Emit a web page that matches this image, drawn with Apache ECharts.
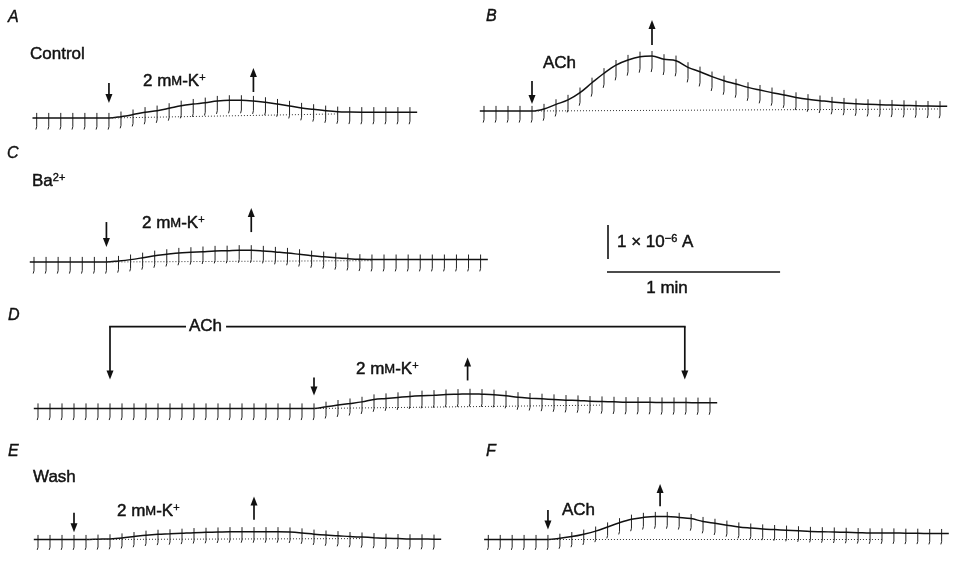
<!DOCTYPE html>
<html>
<head>
<meta charset="utf-8">
<script src="https://cdn.jsdelivr.net/npm/echarts@6/dist/echarts.min.js"></script>
<style>
  html, body { margin: 0; padding: 0; background: #fff; }
  #chart { width: 954px; height: 570px; }
</style>
</head>
<body>
<div id="chart"></div>
<script>
// membrane current at each voltage pulse, nA above the starting holding level
var traceA = [0, 0, 0, 0, 0, 0, 0, 40, 100, 170, 215, 285, 360, 410, 450, 500, 520, 520, 500, 460,
  410, 355, 295, 255, 215, 185, 175, 170, 170, 170, 170, 170];
var traceB = [0, 0, 0, 0, 0, 60, 195, 325, 540, 830, 1110, 1350, 1500, 1595, 1615, 1520, 1480, 1285,
  1155, 1010, 890, 795, 695, 615, 540, 470, 400, 345, 305, 265, 235, 215, 195, 185, 175, 165, 155, 145, 140];
var traceC = [0, 0, 0, 0, 0, 0, 0, 30, 70, 125, 185, 225, 265, 285, 305, 325, 330, 345, 345, 325,
  295, 265, 225, 185, 155, 125, 100, 80, 70, 70, 70, 70, 70, 70, 70, 70, 70, 70];
var traceD = [0, 0, 0, 0, 0, 0, 0, 0, 0, 0, 0, 0, 0, 0, 0, 0, 0, 0, 0, 0, 0, 0, 0, 0,
  50, 100, 145, 195, 265, 295, 325, 355, 375, 390, 410, 420, 430, 420, 405, 375, 330, 305, 285,
  265, 245, 235, 215, 205, 195, 185, 185, 185, 175, 175, 175, 170, 170];
var traceE = [0, 0, 0, 0, 0, 10, 20, 50, 95, 140, 170, 185, 205, 225, 235, 245, 255, 255, 255, 255,
  255, 245, 215, 175, 145, 125, 95, 80, 60, 40, 30, 20, 20, 10];
var traceF = [0, 0, 0, 0, 0, 0, 40, 95, 175, 275, 410, 550, 665, 725, 755, 755, 725, 685, 590, 530,
  470, 410, 375, 345, 325, 305, 285, 265, 255, 245, 235, 225, 215, 215, 215, 205, 205, 195, 195];

// dotted reference baselines: [pulse from, nA, pulse to, nA]
var baseA = [6, 0, 25, 120];
var baseB = [4, 0, 38, 60];
var baseC = [6, 0, 28, 40];
var baseD = [23, 0, 47, 100];
var baseE = [4, 0, 27, 30];
var baseF = [5, 0, 33, 0];

// application arrows: [panel, pulse, nA tail, nA head]
var arrows = [
  [0, 6, 1030, 440], [0, 18, 765, 1470],
  [1, 4, 880, 205], [1, 14, 1940, 2675],
  [2, 6, 1175, 440], [2, 18, 880, 1590],
  [3, 23, 910, 380], [3, 35.8, 825, 1500],
  [3, 6, 2410, 855], [3, 53.9, 2410, 855],
  [4, 3, 880, 235], [4, 18, 645, 1410],
  [5, 5, 970, 325], [5, 14.4, 1090, 1820]
];
var bracketD = [6, 53.9, 2410];

var PULSE_S = 4.16;      // seconds between pulses
var PX = 0.034;          // pixels per nA
var Y_MIN = -1000, Y_MAX = 3000;
var PULSE_UP = 150, PULSE_DOWN = 340, PULSE_GAIN = 0.08;

var panels = [
  { data: traceA, base: baseA, x0: 36.7, y0: 118, step: 12.04 },
  { data: traceB, base: baseB, x0: 484, y0: 111, step: 12.0 },
  { data: traceC, base: baseC, x0: 34, y0: 262, step: 12.07 },
  { data: traceD, base: baseD, x0: 38, y0: 408.5, step: 12.0 },
  { data: traceE, base: baseE, x0: 38, y0: 550, step: 12.0 },
  { data: traceF, base: baseF, x0: 488.3, y0: 550, step: 11.93 }
];

var FONT = '"Liberation Sans", Arial, sans-serif';
var INK = '#111';

function renderPulse(params, api) {
  var i = api.value(0), v = api.value(1);
  var down = PULSE_DOWN + PULSE_GAIN * v;
  var top = api.coord([i, v + PULSE_UP]);
  var low = api.coord([i, v - down * 0.75]);
  var end = api.coord([i, v - down]);
  return {
    type: 'polyline',
    shape: { points: [top, low, [end[0] - 0.8, end[1]]] },
    style: { stroke: '#222', lineWidth: 1, fill: null }
  };
}

var grids = [], xAxes = [], yAxes = [], series = [];
panels.forEach(function (p, k) {
  var n = p.data.length;
  grids.push({
    left: p.x0 - p.step, width: (n + 1) * p.step,
    top: p.y0 - Y_MAX * PX, height: (Y_MAX - Y_MIN) * PX
  });
  xAxes.push({ type: 'value', gridIndex: k, min: -1, max: n, show: false });
  yAxes.push({ type: 'value', gridIndex: k, min: Y_MIN, max: Y_MAX, show: false });

  var pts = p.data.map(function (v, i) { return [i, v]; });
  var line = [[-0.35, p.data[0]]].concat(pts, [[n - 1 + 0.6, p.data[n - 1]]]);
  series.push({
    type: 'line', xAxisIndex: k, yAxisIndex: k, data: line,
    smooth: 0.35, symbol: 'none', silent: true,
    lineStyle: { color: INK, width: 1.5 }
  });
  series.push({
    type: 'line', xAxisIndex: k, yAxisIndex: k,
    data: [[p.base[0], p.base[1]], [p.base[2], p.base[3]]],
    symbol: 'none', silent: true,
    lineStyle: { color: '#333', width: 1, type: [1, 2] }
  });
  series.push({
    type: 'custom', xAxisIndex: k, yAxisIndex: k, data: pts,
    renderItem: renderPulse, silent: true
  });
});

function label(x, y, text, extra) {
  var s = {
    x: x, y: y, text: text, fill: INK, font: '17px ' + FONT,
    stroke: INK, lineWidth: 0.45,
    verticalAlign: 'middle',
    rich: {
      sc: { fontSize: 13, fontFamily: FONT, fill: INK, stroke: INK, lineWidth: 0.45 },
      sup: { fontSize: 11, fontFamily: FONT, fill: INK, stroke: INK, lineWidth: 0.4,
        verticalAlign: 'top', lineHeight: 12 }
    }
  };
  for (var key in extra) s[key] = extra[key];
  return { type: 'text', style: s, silent: true, z: 10 };
}
function letter(x, y, t) {
  return { type: 'text', silent: true, style: { x: x, y: y, text: t, fill: INK,
    stroke: INK, lineWidth: 0.4, font: 'italic 16px ' + FONT, verticalAlign: 'middle' } };
}

var texts = [
  letter(8, 18, 'A'), letter(486, 17, 'B'), letter(7, 154, 'C'),
  letter(8, 316, 'D'), letter(8, 452, 'E'), letter(486, 452, 'F'),
  label(30, 54, 'Control'),
  label(143, 81, '2 m{sc|M}-K{sup|+}'),
  label(543, 63, 'ACh'),
  label(32, 181, 'Ba{sup|2+}'),
  label(142, 223, '2 m{sc|M}-K{sup|+}'),
  label(356, 369, '2 m{sc|M}-K{sup|+}'),
  label(33, 477, 'Wash'),
  label(117, 511, '2 m{sc|M}-K{sup|+}'),
  label(562, 510, 'ACh'),
  label(617, 242, '1 \u00d7 10{sup|\u22126} A'),
  label(667, 288, '1 min', { align: 'center' })
];

var chart = echarts.init(document.getElementById('chart'));
chart.setOption({
  animation: false,
  backgroundColor: '#fff',
  grid: grids, xAxis: xAxes, yAxis: yAxes,
  series: series
});

// arrows, bracket and scale bars placed through each panel's scales
var marks = [];
arrows.forEach(function (a) {
  var tail = chart.convertToPixel({ gridIndex: a[0] }, [a[1], a[2]]);
  var head = chart.convertToPixel({ gridIndex: a[0] }, [a[1], a[3]]);
  var dir = head[1] > tail[1] ? 1 : -1;
  marks.push({ type: 'line', silent: true,
    shape: { x1: tail[0], y1: tail[1], x2: head[0], y2: head[1] - dir * 6 },
    style: { stroke: INK, lineWidth: 1.7 } });
  marks.push({ type: 'polygon', silent: true,
    shape: { points: [[head[0], head[1]], [head[0] - 3.5, head[1] - dir * 9], [head[0] + 3.5, head[1] - dir * 9]] },
    style: { fill: INK } });
});
var bl = chart.convertToPixel({ gridIndex: 3 }, [bracketD[0], bracketD[2]]);
var br = chart.convertToPixel({ gridIndex: 3 }, [bracketD[1], bracketD[2]]);
marks.push({ type: 'line', silent: true,
  shape: { x1: bl[0] - 0.85, y1: bl[1], x2: br[0] + 0.85, y2: br[1] },
  style: { stroke: INK, lineWidth: 1.7 } });
marks.push(label(186, 326, 'ACh', { backgroundColor: '#fff', padding: [0, 4, 0, 3] }));

var s0 = chart.convertToPixel({ gridIndex: 3 }, [0, 0]);
var s1 = chart.convertToPixel({ gridIndex: 3 }, [60 / PULSE_S, 1000]);
var barV = s0[1] - s1[1], barH = s1[0] - s0[0];
marks.push({ type: 'line', silent: true,
  shape: { x1: 608, y1: 259 - barV, x2: 608, y2: 259 },
  style: { stroke: INK, lineWidth: 1.6 } });
marks.push({ type: 'line', silent: true,
  shape: { x1: 607, y1: 272, x2: 607 + barH, y2: 272 },
  style: { stroke: INK, lineWidth: 1.4 } });

chart.setOption({ graphic: texts.concat(marks) });
</script>
</body>
</html>
